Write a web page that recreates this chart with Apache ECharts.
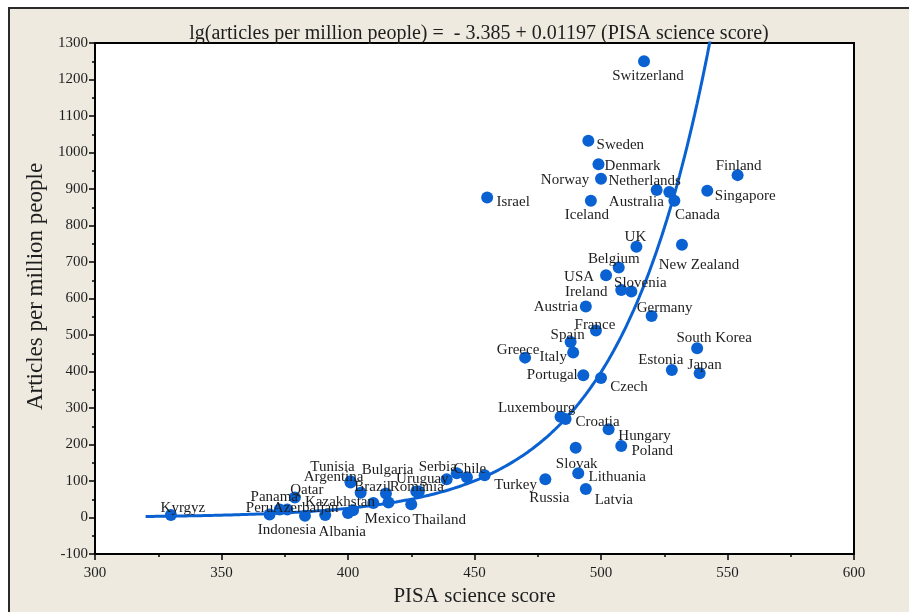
<!DOCTYPE html>
<html>
<head>
<meta charset="utf-8">
<script src="https://cdn.jsdelivr.net/npm/echarts@6/dist/echarts.min.js"></script>
<style>
  html, body { margin: 0; padding: 0; background: #ffffff; overflow: hidden; width: 909px; height: 612px; }
  #frame { position: absolute; left: 8px; top: 7px; width: 899px; height: 603px;
           background: #eeeae0; border-left: 2px solid #2a2a2a; border-top: 2px solid #2a2a2a; }
  #chart { position: absolute; left: 0; top: 0; width: 909px; height: 612px; }
</style>
</head>
<body>
<div id="frame"></div>
<div id="chart"></div>
<script>
// Countries, PISA science score and scientific articles per million inhabitants
const countries = [
  'Switzerland', 'Sweden', 'Denmark', 'Norway', 'Israel', 'Iceland', 'Netherlands',
  'Australia', 'Canada', 'Singapore', 'Finland', 'UK', 'New Zealand', 'Belgium',
  'USA', 'Ireland', 'Slovenia', 'Austria', 'Germany', 'France', 'Spain', 'Italy',
  'Greece', 'South Korea', 'Estonia', 'Japan', 'Portugal', 'Czech', 'Luxembourg',
  'Croatia', 'Hungary', 'Poland', 'Slovak', 'Lithuania', 'Russia', 'Latvia',
  'Turkey', 'Chile', 'Serbia', 'Bulgaria', 'Uruguay', 'Romania', 'Thailand',
  'Mexico', '', '', 'Brazil', 'Argentina', 'Tunisia', 'Kazakhstan', '',
  'Albania', 'Indonesia', 'Qatar', 'Panama', 'Azerbaijan', 'Peru', 'Kyrgyz'
];
const pisaScience = [
  517, 495, 499, 500, 455, 496, 522,
  527, 529, 542, 554, 514, 532, 507,
  502, 508, 512, 494, 520, 498, 488, 489,
  470, 538, 528, 539, 493, 500, 484,
  486, 503, 508, 490, 491, 478, 494,
  454, 447, 443, 439, 427, 428, 425,
  416, 415, 410, 405, 401, 401, 400, 402,
  391, 383, 379, 376, 373, 369, 330
];
const articlesPerMillion = [
  1250, 1032, 968, 928, 877, 868, 897,
  892, 868, 895, 938, 742, 747, 685,
  664, 623, 619, 578, 552, 512, 481, 452,
  438, 464, 404, 395, 390, 382, 276,
  270, 242, 196, 191, 121, 105, 78,
  116, 110, 121, 105, 71, 71, 36,
  41, 66, 40, 68, 96, 99, 12, 20,
  7, 5, 55, 22, 22, 8, 7
];

// Fitted model from the title: lg(articles) = intercept + slope * score
const fitIntercept = -3.385;
const fitSlope = 0.01197;
const fitRange = [320, 550];

// Axis ticks
const xTicks = [300, 350, 400, 450, 500, 550, 600];
const yTicks = [-100, 0, 100, 200, 300, 400, 500, 600, 700, 800, 900, 1000, 1100, 1200, 1300];

// Label placement: offset of each label's centre from its dot, in pixels
const labelOffsets = {
  'Switzerland': [4, 15], 'Sweden': [32, 4], 'Denmark': [34, 2], 'Norway': [-36, 1],
  'Israel': [26, 5], 'Iceland': [-4, 14], 'Netherlands': [-12, -9], 'Australia': [-33, 10],
  'Canada': [23, 14], 'Singapore': [38, 5], 'Finland': [1, -9], 'UK': [-1, -10],
  'New Zealand': [17, 20], 'Belgium': [-5, -8], 'USA': [-27, 2], 'Ireland': [-35, 2],
  'Slovenia': [9, -9], 'Austria': [-30, 1], 'Germany': [13, -8], 'France': [-1, -6],
  'Spain': [-3, -7], 'Italy': [-20, 5], 'Greece': [-7, -8], 'South Korea': [17, -10],
  'Estonia': [-11, -10], 'Japan': [5, -8], 'Portugal': [-31, 0], 'Czech': [28, 9],
  'Luxembourg': [-24, -9], 'Croatia': [32, 3], 'Hungary': [36, 7], 'Poland': [31, 5],
  'Slovak': [1, 16], 'Lithuania': [39, 4], 'Russia': [4, 19], 'Latvia': [28, 11],
  'Turkey': [31, 10], 'Chile': [3, -8], 'Serbia': [-19, -6], 'Bulgaria': [-59, -9],
  'Uruguay': [6, -13], 'Romania': [-2, -5], 'Thailand': [28, 16], 'Mexico': [-1, 17],
  'Brazil': [12, -6], 'Argentina': [-17, -5], 'Tunisia': [-18, -14], 'Kazakhstan': [-8, -11],
  'Albania': [17, 17], 'Indonesia': [-18, 14], 'Qatar': [12, -7], 'Panama': [-13, -12],
  'Azerbaijan': [26, -1], 'Peru': [-10, -7], 'Kyrgyz': [12, -7]
};

const serif = '"Liberation Serif", "DejaVu Serif", serif';
const blue = '#0a62d2';
const ink = '#1e1e1e';

const points = countries.map((name, i) => ({
  name: name,
  value: [pisaScience[i], articlesPerMillion[i]]
}));

const fitCurve = [];
for (let s = fitRange[0]; s <= fitRange[1]; s += 1) {
  fitCurve.push([s, Math.pow(10, fitIntercept + fitSlope * s)]);
}

const chart = echarts.init(document.getElementById('chart'), null, { renderer: 'canvas', width: 909, height: 612 });
chart.setOption({
  backgroundColor: 'transparent',
  animation: false,
  title: {
    text: 'lg(articles per million people) =  - 3.385 + 0.01197 (PISA science score)',
    left: 474, top: 19, textAlign: 'center',
    textStyle: { fontFamily: serif, fontSize: 20, fontWeight: 'normal', color: ink }
  },
  grid: {
    left: 95, top: 43, right: 55, bottom: 58,
    show: true, backgroundColor: '#ffffff', borderColor: '#000', borderWidth: 2
  },
  xAxis: {
    type: 'value', min: xTicks[0], max: xTicks[xTicks.length - 1], interval: 50,
    name: 'PISA science score', nameLocation: 'middle', nameGap: 29,
    nameTextStyle: { fontFamily: serif, fontSize: 21, color: ink },
    axisLine: { show: true, onZero: false, lineStyle: { color: '#000', width: 2 } },
    axisTick: { show: true, inside: false, length: 6, lineStyle: { color: '#000', width: 1.5 } },
    minorTick: { show: true, splitNumber: 2, length: 3, lineStyle: { color: '#000', width: 1.5 } },
    splitLine: { show: false },
    axisLabel: { fontFamily: serif, fontSize: 15, color: ink, margin: 12 }
  },
  yAxis: {
    type: 'value', min: yTicks[0], max: yTicks[yTicks.length - 1], interval: 100,
    name: 'Articles per million people', nameLocation: 'middle', nameGap: 48, nameRotate: 90,
    nameTextStyle: { fontFamily: serif, fontSize: 23, color: ink, padding: [0, 0, 0, 24] },
    axisLine: { show: true, onZero: false, lineStyle: { color: '#000', width: 2 } },
    axisTick: { show: true, inside: false, length: 6, lineStyle: { color: '#000', width: 1.5 } },
    minorTick: { show: true, splitNumber: 2, length: 3, lineStyle: { color: '#000', width: 1.5 } },
    splitLine: { show: false },
    axisLabel: { fontFamily: serif, fontSize: 15, color: ink, margin: 7, formatter: v => String(v) }
  },
  series: [
    {
      type: 'line',
      data: fitCurve,
      showSymbol: false,
      smooth: false,
      clip: true,
      lineStyle: { color: blue, width: 3 },
      z: 2
    },
    {
      type: 'scatter',
      data: points,
      symbol: 'circle',
      symbolSize: 12,
      itemStyle: { color: blue, opacity: 1 },
      label: {
        show: true,
        position: 'inside',
        align: 'center',
        verticalAlign: 'middle',
        formatter: p => p.name,
        fontFamily: serif, fontSize: 15, color: ink
      },
      labelLayout: function (params) {
        const off = labelOffsets[countries[params.dataIndex]] || [0, 0];
        return { dx: off[0], dy: off[1], hideOverlap: false };
      },
      z: 3
    }
  ]
});
</script>
</body>
</html>
